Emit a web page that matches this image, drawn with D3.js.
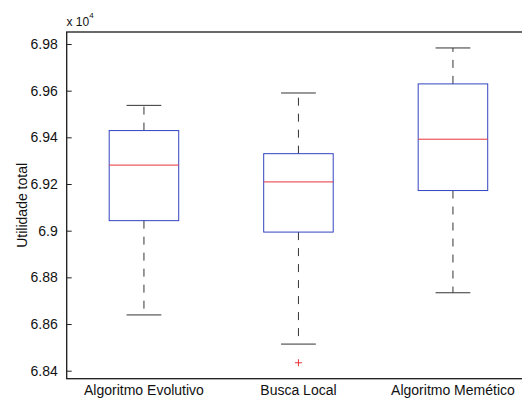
<!DOCTYPE html>
<html>
<head>
<meta charset="utf-8">
<script src="https://cdn.jsdelivr.net/npm/d3@7"></script>
<style>
    body { margin: 0; background: #fff; }
    svg { display: block; font-family: "Liberation Sans", Arial, sans-serif; }
</style>
</head>
<body>
<div id="chart"></div>
<script>
// values in raw units (axis shows them x 10^4)
const categories = ['Algoritmo Evolutivo', 'Busca Local', 'Algoritmo Memético'];
const whiskerLow = [68639, 68514, 68734];
const q1 = [69043, 68994, 69172];
const medians = [69281, 69209, 69392];
const q3 = [69429, 69330, 69629];
const whiskerHigh = [69537, 69590, 69783];
const outliers = [[], [68434], []];
const yTicks = [68400, 68600, 68800, 69000, 69200, 69400, 69600, 69800];

const width = 522, height = 399;
const margin = {top: 32, left: 66.7};
const plotW = 463.5, plotH = 346.7;

const svg = d3.select('#chart').append('svg')
    .attr('width', width)
    .attr('height', height);

const g = svg.append('g').attr('transform', 'translate(' + margin.left + ',' + margin.top + ')');

const x = d3.scaleLinear().domain([0.5, 3.5]).range([0, plotW]);
const y = d3.scaleLinear().domain([68365.7, 69851.4]).range([plotH, 0]);

const boxW = 0.45, capW = 0.225;

const data = categories.map((c, i) => ({
    name: c, pos: i + 1,
    lo: whiskerLow[i], q1: q1[i], med: medians[i], q3: q3[i], hi: whiskerHigh[i],
    out: outliers[i]
}));

// y axis, ticks inside
const yAxis = d3.axisLeft(y).tickValues(yTicks).tickSize(-5).tickPadding(9)
    .tickFormat(d => String(+(d / 1e4).toFixed(2)));
const ya = g.append('g').call(yAxis);
ya.select('.domain').remove();
ya.selectAll('line').attr('stroke', '#222');
ya.selectAll('text').attr('font-size', 14).attr('fill', '#111').attr('font-family', 'Liberation Sans, Arial, sans-serif');

// right side ticks (mostly off screen)
const yAxisR = d3.axisRight(y).tickValues(yTicks).tickSize(-5).tickFormat('');
const yr = g.append('g').attr('transform', 'translate(' + plotW + ',0)').call(yAxisR);
yr.select('.domain').remove();
yr.selectAll('line').attr('stroke', '#222');

// boxes
const groups = g.selectAll('.boxg').data(data).enter().append('g').attr('class', 'boxg');

groups.append('line') // upper whisker
    .attr('x1', d => x(d.pos)).attr('x2', d => x(d.pos))
    .attr('y1', d => y(d.q3)).attr('y2', d => y(d.hi))
    .attr('stroke', '#333').attr('stroke-dasharray', '8,8');
groups.append('line') // lower whisker
    .attr('x1', d => x(d.pos)).attr('x2', d => x(d.pos))
    .attr('y1', d => y(d.q1)).attr('y2', d => y(d.lo))
    .attr('stroke', '#333').attr('stroke-dasharray', '8,8');

groups.selectAll('.cap').data(d => [d.lo, d.hi].map(v => ({pos: d.pos, v: v}))).enter()
    .append('line').attr('class', 'cap')
    .attr('x1', d => x(d.pos - capW / 2)).attr('x2', d => x(d.pos + capW / 2))
    .attr('y1', d => y(d.v)).attr('y2', d => y(d.v))
    .attr('stroke', '#333');

groups.append('rect')
    .attr('x', d => x(d.pos - boxW / 2))
    .attr('y', d => y(d.q3))
    .attr('width', d => x(d.pos + boxW / 2) - x(d.pos - boxW / 2))
    .attr('height', d => y(d.q1) - y(d.q3))
    .attr('fill', 'none').attr('stroke', '#3344c0');

groups.append('line')
    .attr('x1', d => x(d.pos - boxW / 2)).attr('x2', d => x(d.pos + boxW / 2))
    .attr('y1', d => y(d.med)).attr('y2', d => y(d.med))
    .attr('stroke', '#e8333a');

// outliers as '+'
groups.selectAll('.out').data(d => d.out.map(v => ({pos: d.pos, v: v}))).enter()
    .append('path').attr('class', 'out')
    .attr('d', d => {
        const cx = x(d.pos), cy = y(d.v);
        return 'M' + (cx - 3.5) + ',' + cy + 'H' + (cx + 3.5) + 'M' + cx + ',' + (cy - 3.5) + 'V' + (cy + 3.5);
    })
    .attr('stroke', '#e8333a').attr('fill', 'none');

// frame
g.append('rect')
    .attr('width', plotW).attr('height', plotH)
    .attr('fill', 'none').attr('stroke', '#1a1a1a').attr('stroke-width', 1.3);

// category labels
g.selectAll('.cat').data(data).enter().append('text')
    .attr('class', 'cat')
    .attr('x', d => x(d.pos)).attr('y', plotH + 16.5)
    .attr('text-anchor', 'middle').attr('font-size', 14).attr('fill', '#111')
    .text(d => d.name);

// y label
svg.append('text')
    .attr('transform', 'translate(27,' + (margin.top + plotH / 2) + ') rotate(-90)')
    .attr('text-anchor', 'middle').attr('font-size', 14).attr('fill', '#111')
    .text('Utilidade total');

// exponent label
const ex = svg.append('text').attr('x', 66.5).attr('y', 25.5).attr('font-size', 12).attr('fill', '#111');
ex.append('tspan').text('x 10');
ex.append('tspan').attr('dy', -8).attr('font-size', 8).text('4');
</script>
</body>
</html>
